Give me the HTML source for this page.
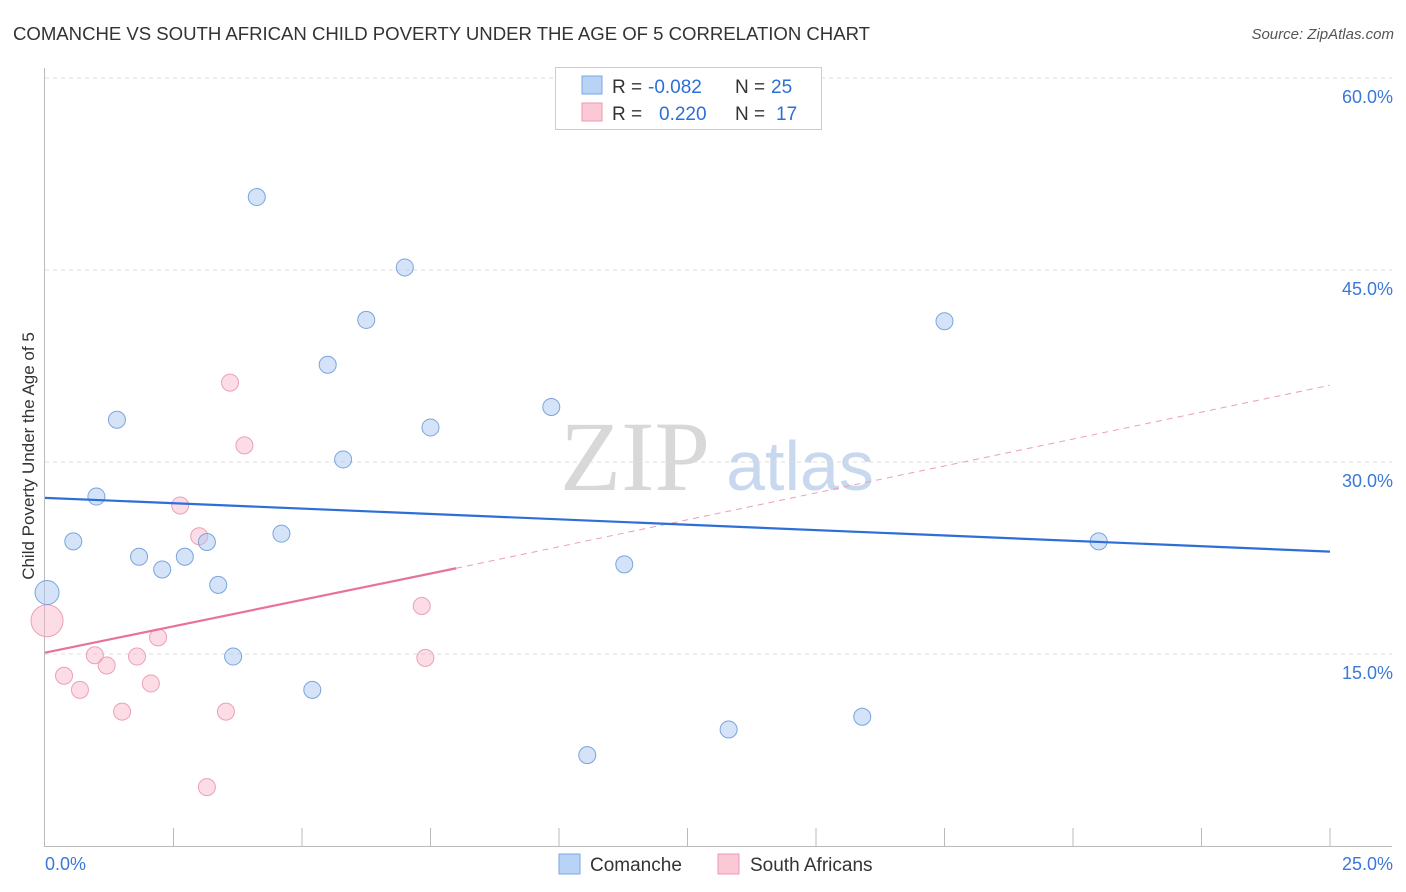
<!DOCTYPE html>
<html><head><meta charset="utf-8">
<style>
body{margin:0;background:#fff;font-family:"Liberation Sans",sans-serif;}
#wrap{position:relative;width:1406px;height:892px;overflow:hidden;}
</style></head>
<body><div id="wrap">
<svg id="svg" width="1406" height="892" style="position:absolute;left:0;top:0">
<text x="13" y="40" font-size="18.6" fill="#333" textLength="857">COMANCHE VS SOUTH AFRICAN CHILD POVERTY UNDER THE AGE OF 5 CORRELATION CHART</text>
<text x="1394" y="39" font-size="15" fill="#555" font-style="italic" text-anchor="end">Source: ZipAtlas.com</text>
<text x="34" y="456" font-size="17" fill="#333" text-anchor="middle" transform="rotate(-90 34 456)">Child Poverty Under the Age of 5</text>
<text x="635" y="490" font-size="100" fill="#d8d8d8" text-anchor="middle" font-family="Liberation Serif,serif">ZIP</text>
<text x="800" y="490" font-size="70" fill="#c8d8ee" text-anchor="middle">atlas</text>
<g id="grid"></g><g id="marks"></g>
<rect x="555.5" y="67.5" width="266" height="62" fill="#fff" stroke="#ccc"/>
<rect x="582" y="76" width="20" height="18" fill="#b8d3f5" stroke="#7aa8e6"/>
<rect x="582" y="103" width="20" height="18" fill="#fbc8d6" stroke="#ee9ab3"/>
<g font-size="19">
<text x="612" y="93" fill="#333">R =</text><text x="648" y="93" fill="#2c6fd6">-0.082</text>
<text x="735" y="93" fill="#333">N =</text><text x="771" y="93" fill="#2c6fd6">25</text></g>
<g font-size="19">
<text x="612" y="120" fill="#333">R =</text><text x="659" y="120" fill="#2c6fd6">0.220</text>
<text x="735" y="120" fill="#333">N =</text><text x="776" y="120" fill="#2c6fd6">17</text></g>
<rect x="559" y="854" width="21" height="20" fill="#b8d3f5" stroke="#7aa8e6"/>
<text x="590" y="871" font-size="19" fill="#333">Comanche</text>
<rect x="718" y="854" width="21" height="20" fill="#fbc8d6" stroke="#ee9ab3"/>
<text x="750" y="871" font-size="19" fill="#333">South Africans</text>
<text x="45" y="870" font-size="18" fill="#3b78d8">0.0%</text>
<text x="1393" y="870" font-size="18" fill="#3b78d8" text-anchor="end">25.0%</text>
</svg>
<script>
const yTicks=[15,30,45,60];
const comX=[0.04,4.12,7.0,6.25,17.5,5.5,1.4,9.85,7.5,5.8,1.0,0.55,1.83,2.72,3.15,4.6,2.28,3.37,11.27,20.5,3.66,5.2,15.9,13.3,10.55];
const comY=[19.8,50.7,45.2,41.1,41.0,37.6,33.3,34.3,32.7,30.2,27.3,23.8,22.6,22.6,23.75,24.4,21.6,20.4,22.0,23.8,14.8,12.2,10.1,9.1,7.1];
const comR=[12,8.5,8.5,8.5,8.5,8.5,8.5,8.5,8.5,8.5,8.5,8.5,8.5,8.5,8.5,8.5,8.5,8.5,8.5,8.5,8.5,8.5,8.5,8.5,8.5];
const saX=[0.04,3.6,3.88,2.63,3.0,7.33,2.2,0.97,1.79,1.2,7.4,0.37,0.68,2.06,1.5,3.52,3.15];
const saY=[17.6,36.2,31.3,26.6,24.2,18.75,16.3,14.9,14.8,14.1,14.7,13.3,12.2,12.7,10.5,10.5,4.6];
const saR=[16,8.5,8.5,8.5,8.5,8.5,8.5,8.5,8.5,8.5,8.5,8.5,8.5,8.5,8.5,8.5,8.5];
const comLine=[[0,27.2],[25,23.0]];
const saLine=[[0,15.1],[8,21.7]];
const saDash=[[8,21.7],[25,36.0]];
const X=v=>45+v*51.4, Y=v=>846-v*12.8;
const NS="http://www.w3.org/2000/svg";
const g=document.getElementById('grid'), m=document.getElementById('marks');
function el(t,a,p){const e=document.createElementNS(NS,t);for(const k in a)e.setAttribute(k,a[k]);p.appendChild(e);return e;}
yTicks.forEach(t=>{
 const l=el('line',{x1:45,x2:1392,y1:Y(t),y2:Y(t),stroke:'#ddd','stroke-dasharray':'4,4'},g);
 
 
 const tx=el('text',{x:1393,y:Y(t)+25,'font-size':18,fill:'#3b78d8','text-anchor':'end'},g);
 tx.textContent=t.toFixed(1)+'%';
 
 
});
const ax=el('path',{d:'M44.5 68V846.5H1392',stroke:'#bbb',fill:'none'},g);


for(let i=1;i<=10;i++){const t=el('line',{x1:X(i*2.5),x2:X(i*2.5),y1:828,y2:846,stroke:'#bbb'},g);
 
 }
function line(pts,c,dash,name){const e=el('line',{x1:X(pts[0][0]),y1:Y(pts[0][1]),x2:X(pts[1][0]),y2:Y(pts[1][1]),stroke:c,'stroke-width':dash?1:2.2},m);
 if(dash)e.setAttribute('stroke-dasharray','6,5');
 
 }
saX.forEach((v,i)=>{const c=el('circle',{cx:X(v),cy:Y(saY[i]),r:saR[i],fill:'rgba(248,180,200,0.45)',stroke:'#eba0b8'},m);
 
 });
comX.forEach((v,i)=>{const c=el('circle',{cx:X(v),cy:Y(comY[i]),r:comR[i],fill:'rgba(170,200,240,0.5)',stroke:'#7aa5dc'},m);
 
 });
line(saDash,'#e9a0b5',true,'south-africans-trend-extension');
line(saLine,'#e8729a',false,'south-africans-trend-line');
line(comLine,'#2d6fd6',false,'comanche-trend-line');
</script>
</div></body></html>
